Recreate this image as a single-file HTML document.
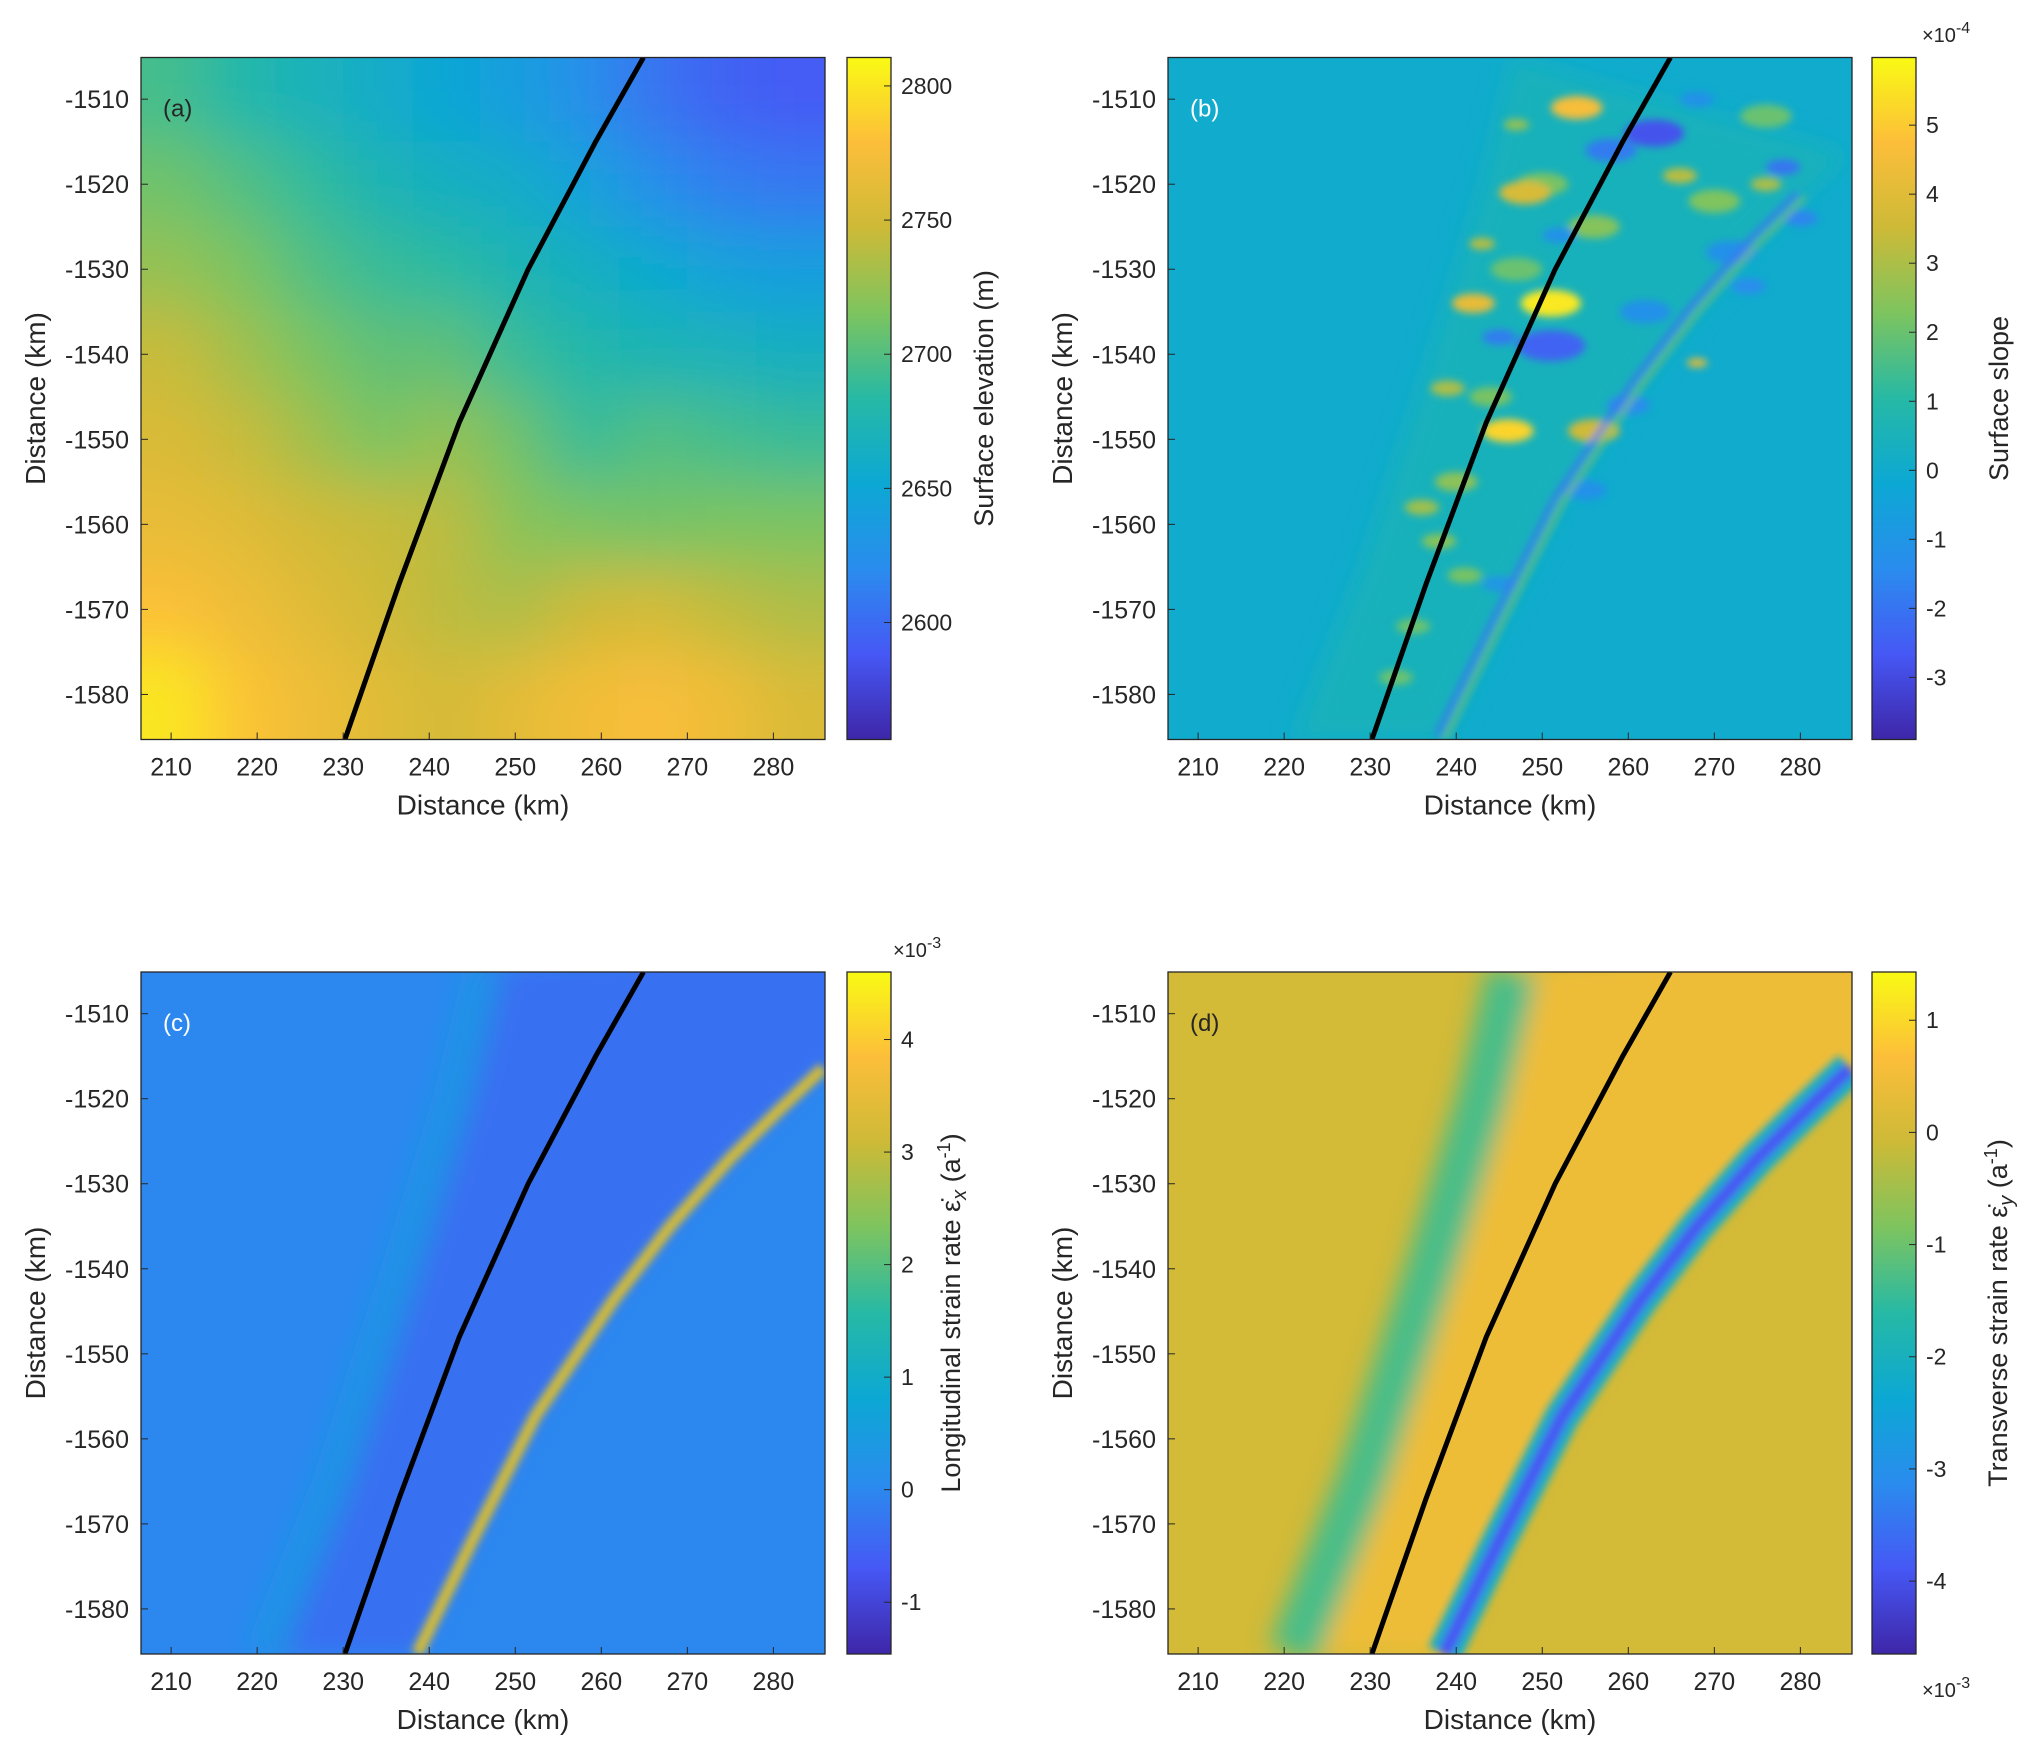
<!DOCTYPE html>
<html><head><meta charset="utf-8">
<style>
html,body{margin:0;padding:0;background:#fff;}
svg{display:block;}
text{font-family:"Liberation Sans",Arial,sans-serif;fill:#262626;}
</style></head>
<body>
<svg id="fig" width="2039" height="1761" viewBox="0 0 2039 1761" xmlns="http://www.w3.org/2000/svg">
<defs>
<filter id="blurBig" x="-20%" y="-20%" width="140%" height="140%"><feGaussianBlur stdDeviation="30"/></filter>
<filter id="blurMid" x="-50%" y="-50%" width="200%" height="200%"><feGaussianBlur stdDeviation="12"/></filter>
<filter id="blurSm" x="-20%" y="-20%" width="140%" height="140%"><feGaussianBlur stdDeviation="4"/></filter>
</defs>
</svg>
<script>
// ---- data ----
const xTicks = [210,220,230,240,250,260,270,280];
const yTicks = [-1510,-1520,-1530,-1540,-1550,-1560,-1570,-1580];
const xDomain = [206.5,286.0];
const yDomain = [-1505.1,-1585.3];
const lineX = [230.2,236.5,243.5,251.5,259.4,264.9];
const lineY = [-1585.3,-1567.0,-1548.0,-1530.0,-1514.9,-1505.1];
const gridX = [210,218,226,234,242,250,258,266,274,282];
const gridY = [-1510,-1520,-1530,-1540,-1550,-1560,-1570,-1580];
const elevGrid = [
 [2695,2680,2670,2660,2650,2640,2625,2605,2595,2590],
 [2710,2700,2688,2675,2665,2660,2645,2625,2612,2608],
 [2725,2715,2700,2690,2685,2675,2665,2655,2645,2640],
 [2745,2730,2715,2705,2705,2690,2680,2675,2670,2665],
 [2755,2745,2730,2715,2725,2710,2690,2700,2695,2690],
 [2765,2760,2750,2745,2740,2720,2715,2712,2715,2715],
 [2780,2770,2760,2750,2740,2735,2748,2752,2742,2735],
 [2800,2782,2770,2760,2752,2762,2772,2776,2770,2755]];
const elevRange = [2556.4,2810.6];
const elevTicks = [2600,2650,2700,2750,2800];
const slopeBg = 0.0;
const slopeRange = [-3.9,5.98];
const slopeTicks = [-3,-2,-1,0,1,2,3,4,5];
const slopeBlobX = [240,244,238,247,250,256,270,276,235,251,242,246,256,254,248,268,251,263,278,258,245,262,272,243,239,236,247,266,274,280,255,260,241,233,245,252,268,276];
const slopeBlobY = [-1555,-1545,-1562,-1530,-1520,-1525,-1522,-1512,-1572,-1534,-1534,-1549,-1549,-1511,-1521,-1541,-1539,-1514,-1518,-1516,-1538,-1535,-1528,-1527,-1544,-1558,-1513,-1519,-1532,-1524,-1556,-1546,-1566,-1578,-1567,-1526,-1510,-1520];
const slopeBlobV = [2.5,2.2,2.4,2.0,2.2,2.4,2.3,2.0,2.0,5.6,4.2,5.2,3.6,4.6,3.8,4.0,-2.4,-2.8,-2.0,-1.8,-1.8,-1.2,-1.2,3.2,3.0,2.8,2.6,3.2,-1.4,-1.6,-1.2,-1.4,2.2,2.0,-1.0,-1.2,-1.2,3.0];
const slopeBlobR = [2.5,2.5,2,3,3,3,3,3,2,3.5,2.5,3,3,3,3,1.2,4,3.5,2,3,2,3,3,1.5,2,2,1.5,2,2,2,2.5,2.5,2,2,2,2,2,1.8];
const riftX = [238.6,245.0,252.3,261.4,268.0,275.0,280.5,285.8];
const riftY = [-1585.3,-1572.0,-1557.4,-1543.7,-1535.0,-1527.0,-1521.5,-1516.4];
const lonBg = 0.0;
const lonRange = [-1.46,4.6];
const lonTicks = [-1,0,1,2,3,4];
const lonBandV = 0.5;
const lonInnerV = -0.35;
const lonRiftV = 3.2;
const trBg = 0.0;
const trRange = [-4.65,1.43];
const trTicks = [-4,-3,-2,-1,0,1];
const trBandV = -1.3;
const trInnerV = 0.45;
const trRiftV = -3.9;
const trRiftEdgeV = -2.2;
const bandX = [221.0,229.0,237.0,243.0,246.5];
const bandY = [-1585.3,-1565.0,-1540.0,-1520.0,-1505.1];

// ---- helpers ----
const NS='http://www.w3.org/2000/svg';
const svg=document.getElementById('fig');
function mk(tag,attrs,parent){const e=document.createElementNS(NS,tag);for(const k in attrs)e.setAttribute(k,attrs[k]);(parent||svg).appendChild(e);return e;}
const parulaStops=[[0,[62,38,168]],[0.125,[70,88,245]],[0.25,[42,140,238]],[0.375,[12,168,212]],[0.5,[38,185,165]],[0.625,[125,196,95]],[0.75,[205,186,55]],[0.875,[252,190,58]],[1,[249,250,20]]];
function parula(t){t=Math.max(0,Math.min(1,t));for(let i=1;i<parulaStops.length;i++){if(t<=parulaStops[i][0]){const a=parulaStops[i-1],b=parulaStops[i];const f=(t-a[0])/(b[0]-a[0]);const c=a[1].map((v,j)=>Math.round(v+(b[1][j]-v)*f));return `rgb(${c[0]},${c[1]},${c[2]})`;}}return 'rgb(249,250,20)';}

const W=684,H=682;
const panels=[
 {id:'a',x0:141,y0:57.5,cb:847,range:elevRange,ticks:elevTicks,label:'(a)',labColor:'#262626'},
 {id:'b',x0:1168,y0:57.5,cb:1872,range:slopeRange,ticks:slopeTicks,label:'(b)',labColor:'#ffffff'},
 {id:'c',x0:141,y0:972,cb:847,range:lonRange,ticks:lonTicks,label:'(c)',labColor:'#ffffff'},
 {id:'d',x0:1168,y0:972,cb:1872,range:trRange,ticks:trTicks,label:'(d)',labColor:'#262626'}];

panels.forEach(p=>{
 const sx=v=>p.x0+(v-xDomain[0])/(xDomain[1]-xDomain[0])*W;
 const sy=v=>p.y0+(v-yDomain[0])/(yDomain[1]-yDomain[0])*H;
 const col=v=>parula((v-p.range[0])/(p.range[1]-p.range[0]));
 const ppk=W/(xDomain[1]-xDomain[0]);
 const clip=mk('clipPath',{id:'clip-'+p.id},svg.querySelector('defs'));
 mk('rect',{x:p.x0,y:p.y0,width:W,height:H},clip);
 const g=mk('g',{'clip-path':'url(#clip-'+p.id+')'});
 
 
 const bgv={a:null,b:slopeBg,c:lonBg,d:trBg}[p.id];
 if(p.id==='a'){
  mk('rect',{x:p.x0,y:p.y0,width:W,height:H,fill:col(2720)},g);
  const gg=mk('g',{filter:'url(#blurBig)'},g);
  const dx=ppk*8, dy=10*H/(yDomain[0]-yDomain[1]);
  for(let r=0;r<gridY.length;r++)for(let c=0;c<gridX.length;c++){
   let x=sx(gridX[c])-dx/2, y=sy(gridY[r])-dy/2, w=dx, h=dy;
   if(c===0){x-=80;w+=80;} if(c===gridX.length-1)w+=80;
   if(r===0){y-=80;h+=80;} if(r===gridY.length-1)h+=80;
   const cell=mk('rect',{x:x,y:y,width:w+1,height:h+1,fill:col(elevGrid[r][c])},gg);
   
   
  }
 } else {
  mk('rect',{x:p.x0,y:p.y0,width:W,height:H,fill:col(bgv)},g);
 }
 const rift=riftX.map((x,i)=>[sx(x),sy(riftY[i])]);
 const band=bandX.map((x,i)=>[sx(x),sy(bandY[i])]);
 const line=lineX.map((x,i)=>[sx(x),sy(lineY[i])]);
 const pts=a=>a.map(q=>q.join(',')).join(' ');
 if(p.id==='c'||p.id==='d'){
  const bandV=p.id==='c'?lonBandV:trBandV, innerV=p.id==='c'?lonInnerV:trInnerV;
  const gb=mk('g',{filter:'url(#blurMid)'},g);
  const poly=band.concat([[p.x0+W+40,p.y0-40]]).concat([[p.x0+W+40,rift[rift.length-1][1]]]).concat(rift.slice().reverse());
  mk('polygon',{points:pts(poly),fill:col(innerV)},gb);
  const bl=mk('polyline',{points:pts(band),fill:'none',stroke:col(bandV),'stroke-width':p.id==='c'?40:50,opacity:p.id==='c'?0.6:1},gb);
  
  
  const gr=mk('g',{filter:'url(#blurSm)'},g);
  if(p.id==='d') mk('polyline',{points:pts(rift),fill:'none',stroke:col(trRiftEdgeV),'stroke-width':34},gr);
  const rl=mk('polyline',{points:pts(rift),fill:'none',stroke:col(p.id==='c'?lonRiftV:trRiftV),'stroke-width':p.id==='c'?12:14},gr);
  
  
 }
 if(p.id==='b'){
  const gb=mk('g',{filter:'url(#blurMid)'},g);
  const poly=band.concat(rift.slice().reverse());
  mk('polygon',{points:pts(poly),fill:col(0.6),opacity:0.8},gb);
  const gs=mk('g',{filter:'url(#blurSm)'},g);
  slopeBlobX.forEach((x,i)=>{
   const e=mk('ellipse',{cx:sx(x),cy:sy(slopeBlobY[i]),rx:slopeBlobR[i]*ppk,ry:slopeBlobR[i]*ppk*0.45,fill:col(slopeBlobV[i])},gs);
   
   
  });
  mk('polyline',{points:pts(rift.slice(0,7)),fill:'none',stroke:col(2.2),'stroke-width':4},gs);
  mk('polyline',{points:pts(rift.slice(0,7).map(q=>[q[0]-7,q[1]-4])),fill:'none',stroke:col(-2.0),'stroke-width':5},gs);
 }
 const pl=mk('polyline',{points:pts(line),fill:'none',stroke:'#000','stroke-width':5,'stroke-linejoin':'round'},g);
 
 
 const fr=mk('rect',{x:p.x0,y:p.y0,width:W,height:H,fill:'none',stroke:'#262626','stroke-width':1.3});
 
 
 const lt=mk('text',{x:p.x0+22,y:p.y0+59,'font-size':24,style:'fill:'+p.labColor});
 lt.textContent=p.label;
 
 
 xTicks.forEach(t=>{
  const x=sx(t);
  mk('line',{x1:x,y1:p.y0+H,x2:x,y2:p.y0+H-7,stroke:'#262626','stroke-width':1});
  const tx=mk('text',{x:x,y:p.y0+H+36,'font-size':25,'text-anchor':'middle'});
  tx.textContent=t;
  
  
 });
 yTicks.forEach(t=>{
  const y=sy(t);
  mk('line',{x1:p.x0,y1:y,x2:p.x0+7,y2:y,stroke:'#262626','stroke-width':1});
  const ty=mk('text',{x:p.x0-12,y:y+9,'font-size':25,'text-anchor':'end'});
  ty.textContent=t;
  
  
 });
 const xt=mk('text',{x:p.x0+W/2,y:p.y0+H+75,'font-size':28,'text-anchor':'middle'});
 xt.textContent='Distance (km)';
 
 
 const ytt=mk('text',{x:0,y:0,'font-size':28,'text-anchor':'middle',transform:`translate(${p.x0-96},${p.y0+H/2}) rotate(-90)`});
 ytt.textContent='Distance (km)';
 
 
 const cbw=44;
 const gid='grad-'+p.id;
 const lg=mk('linearGradient',{id:gid,x1:0,y1:1,x2:0,y2:0},svg.querySelector('defs'));
 parulaStops.forEach(s=>mk('stop',{offset:s[0],'stop-color':parula(s[0])},lg));
 const cbr=mk('rect',{x:p.cb,y:p.y0,width:cbw,height:H,fill:'url(#'+gid+')',stroke:'#262626','stroke-width':1.3});
 
 
 const cy=v=>p.y0+H-(v-p.range[0])/(p.range[1]-p.range[0])*H;
 p.ticks.forEach(t=>{
  const y=cy(t);
  mk('line',{x1:p.cb+cbw-7,y1:y,x2:p.cb+cbw,y2:y,stroke:'#262626','stroke-width':1});
  const tt=mk('text',{x:p.cb+cbw+10,y:y+8,'font-size':23});
  tt.textContent=t;
  
  
 });
 const titleX={a:993,b:2008,c:960,d:2007}[p.id];
 const ct=mk('text',{x:0,y:0,'font-size':27,'text-anchor':'middle',transform:`translate(${titleX},${p.y0+H/2}) rotate(-90)`});
 
 
 if(p.id==='a') ct.textContent='Surface elevation (m)';
 else if(p.id==='b') ct.textContent='Surface slope';
 else {
  const nm=p.id==='c'?'Longitudinal strain rate ':'Transverse strain rate ';
  const sub=p.id==='c'?'x':'y';
  ct.innerHTML=`${nm}ε̇<tspan font-style="italic" dy="6" font-size="20">${sub}</tspan><tspan dy="-6"> (a</tspan><tspan dy="-10" font-size="18">-1</tspan><tspan dy="10">)</tspan>`;
 }
 const mult={b:[1922,42,'-4'],c:[893,957,'-3'],d:[1922,1697,'-3']}[p.id];
 if(mult){
  const mt=mk('text',{x:mult[0],y:mult[1],'font-size':20});
  mt.innerHTML=`×10<tspan dy="-9" font-size="16">${mult[2]}</tspan>`;
  
  
 }
});
</script>
</body></html>
